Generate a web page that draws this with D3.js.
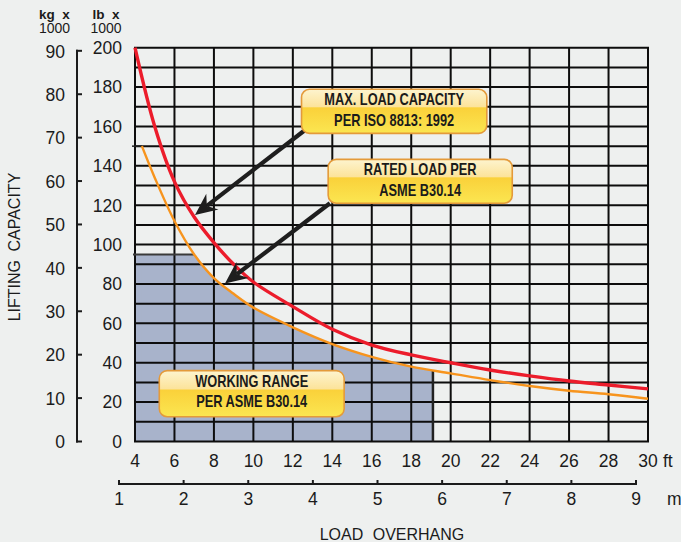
<!DOCTYPE html>
<html>
<head>
<meta charset="utf-8">
<script src="https://cdn.jsdelivr.net/npm/d3@7/dist/d3.min.js"></script>
<style>
  html, body { margin: 0; padding: 0; background: #eef0ef; }
  svg { display: block; }
</style>
</head>
<body>
<svg id="chart" width="681" height="542"></svg>
<script>
// ---------- DATA ----------
const ftTicks = [4, 6, 8, 10, 12, 14, 16, 18, 20, 22, 24, 26, 28, 30];
const mTicks = [1, 2, 3, 4, 5, 6, 7, 8, 9];
const lbTicks = [0, 20, 40, 60, 80, 100, 120, 140, 160, 180, 200];
const lbGrid = [0, 10, 20, 30, 40, 50, 60, 70, 80, 90, 100, 110, 120, 130, 140, 150, 160, 170, 180, 190, 200];
const kgTicks = [0, 10, 20, 30, 40, 50, 60, 70, 80, 90];

// Max. load capacity per ISO 8813 (red), ft vs lb x1000
const maxFt = [4, 5, 6, 7, 8, 9, 10, 12, 14, 16, 18, 20, 22, 24, 26, 28, 30];
const maxLb = [200, 160, 132, 114, 101, 90, 81, 68.5, 57, 49, 44, 40, 36.3, 33.3, 30.7, 28.7, 26.7];

// Rated load per ASME B30.14 (orange)
const ratedFt = [4.35, 5, 6, 7, 8, 9, 10, 12, 14, 16, 18, 20, 22, 24, 26, 28, 30];
const ratedLb = [150, 134, 112, 95, 83, 75, 68, 58, 49.5, 43, 38, 34.6, 31.2, 28.2, 25.8, 24, 21.7];

// Working range limits
const workingMaxLb = 95;
const workingMaxFt = 19.1;

// Annotation boxes (data units: ft, lb)
const boxLabels = [
  ["MAX. LOAD CAPACITY", "PER ISO 8813: 1992"],
  ["RATED LOAD PER", "ASME B30.14"],
  ["WORKING RANGE", "PER ASME B30.14"]
];
const boxFt0 = [12.44, 13.79, 5.23];
const boxFt1 = [21.83, 23.12, 14.6];
const boxLbTop = [178.9, 143.3, 36.0];
const boxLbBot = [156.5, 121.0, 12.6];

// Arrows (data units)
const arrowFromFt = [12.62, 13.88];
const arrowFromLb = [158.2, 121.0];
const arrowToFt = [7.04, 8.56];
const arrowToLb = [115.0, 80.3];

const KG_TO_LB = 2.20462;

// ---------- SCALES ----------
const svg = d3.select("#chart");
const x = d3.scaleLinear().domain([4, 30]).range([135, 648]);
const y = d3.scaleLinear().domain([0, 200]).range([441.5, 47.7]);
const xm = d3.scaleLinear().domain([1, 9]).range([119, 636]);

const FONT = "'Liberation Sans', Arial, Helvetica, sans-serif";
const INK = "#1b1b1b";

// ---------- DEFS ----------
const defs = svg.append("defs");
defs.append("clipPath").attr("id", "workClip")
  .append("rect")
  .attr("x", x(4)).attr("y", y(workingMaxLb))
  .attr("width", x(workingMaxFt) - x(4))
  .attr("height", y(0) - y(workingMaxLb));

const grad = defs.append("linearGradient").attr("id", "boxGrad")
  .attr("x1", 0).attr("y1", 0).attr("x2", 0).attr("y2", 1);
grad.append("stop").attr("offset", "0%").attr("stop-color", "#fdf4cf");
grad.append("stop").attr("offset", "40%").attr("stop-color", "#fce39a");
grad.append("stop").attr("offset", "42%").attr("stop-color", "#fad13a");
grad.append("stop").attr("offset", "100%").attr("stop-color", "#fbe651");

// ---------- WORKING RANGE FILL ----------
const work = svg.append("g").attr("clip-path", "url(#workClip)");
work.append("rect")
  .attr("x", x(4)).attr("y", y(workingMaxLb))
  .attr("width", x(ratedFt[3]) - x(4))
  .attr("height", y(0) - y(workingMaxLb))
  .attr("fill", "#a8b3cb");
const ratedPts = ratedFt.map((f, i) => [f, ratedLb[i]]);
work.append("path")
  .datum(ratedPts)
  .attr("fill", "#a8b3cb")
  .attr("d", d3.area()
    .x(d => x(d[0])).y0(y(0)).y1(d => y(d[1]))
    .curve(d3.curveCatmullRom));

// ---------- GRID ----------
const grid = svg.append("g").attr("stroke", "#0d0d0d").attr("stroke-width", 2);
grid.selectAll("line.v").data(ftTicks).join("line")
  .attr("x1", d => x(d)).attr("x2", d => x(d))
  .attr("y1", y(200)).attr("y2", y(0));
grid.selectAll("line.h").data(lbGrid).join("line")
  .attr("class", "h")
  .attr("x1", x(4) - 1).attr("x2", x(30) + 1)
  .attr("y1", d => y(d)).attr("y2", d => y(d));

// working range edges
svg.append("line")
  .attr("x1", x(4) - 2).attr("x2", x(ratedFt[3]))
  .attr("y1", y(workingMaxLb)).attr("y2", y(workingMaxLb))
  .attr("stroke", "#3a3a3a").attr("stroke-width", 2);
svg.append("line")
  .attr("x1", x(workingMaxFt)).attr("x2", x(workingMaxFt))
  .attr("y1", y(36.2)).attr("y2", y(0))
  .attr("stroke", "#222").attr("stroke-width", 2.5);
svg.append("line")
  .attr("x1", x(4) - 3).attr("x2", x(ratedFt[0]))
  .attr("y1", y(ratedLb[0])).attr("y2", y(ratedLb[0]))
  .attr("stroke", "#222").attr("stroke-width", 1.5);

// ---------- CURVES ----------
const line = d3.line().x(d => x(d[0])).y(d => y(d[1])).curve(d3.curveCatmullRom);
svg.append("path")
  .datum(ratedPts)
  .attr("fill", "none").attr("stroke", "#f7941d").attr("stroke-width", 2.4)
  .attr("d", line);
svg.append("path")
  .datum(maxFt.map((f, i) => [f, maxLb[i]]))
  .attr("fill", "none").attr("stroke", "#ec1c2b").attr("stroke-width", 3.4)
  .attr("d", line);

// ---------- ARROWS ----------
const arrows = svg.append("g");
arrowFromFt.forEach((f, i) => {
  const x0 = x(f), y0 = y(arrowFromLb[i]);
  const x1 = x(arrowToFt[i]), y1 = y(arrowToLb[i]);
  const ang = Math.atan2(y1 - y0, x1 - x0);
  const L = 22, W = 10, N = 15;
  const bx = x1 - L * Math.cos(ang), by = y1 - L * Math.sin(ang);
  const nx = x1 - N * Math.cos(ang), ny = y1 - N * Math.sin(ang);
  const px = -Math.sin(ang), py = Math.cos(ang);
  arrows.append("line")
    .attr("x1", x0).attr("y1", y0).attr("x2", nx).attr("y2", ny)
    .attr("stroke", "#1e1e1e").attr("stroke-width", 4.2);
  arrows.append("path")
    .attr("d", `M${x1},${y1} L${bx + px * W},${by + py * W} L${nx},${ny} L${bx - px * W},${by - py * W} Z`)
    .attr("fill", "#1e1e1e");
});

// ---------- BOXES ----------
const boxes = svg.append("g");
boxLabels.forEach((lines, i) => {
  const bx0 = x(boxFt0[i]), bx1 = x(boxFt1[i]);
  const by0 = y(boxLbTop[i]), by1 = y(boxLbBot[i]);
  const g = boxes.append("g");
  g.append("rect")
    .attr("x", bx0).attr("y", by0)
    .attr("width", bx1 - bx0).attr("height", by1 - by0)
    .attr("rx", 8).attr("ry", 8)
    .attr("fill", "url(#boxGrad)")
    .attr("stroke", "#e49a3a").attr("stroke-width", 1.6);
  const cx = (bx0 + bx1) / 2;
  [[lines[0], 16], [lines[1], 36.3]].forEach(([t, dy]) => {
    g.append("text")
      .attr("transform", `translate(${cx},${by0 + dy}) scale(0.8,1)`)
      .attr("text-anchor", "middle").attr("font-family", FONT)
      .attr("font-weight", "bold").attr("font-size", 16).attr("fill", INK)
      .text(t);
  });
});

// ---------- AXES ----------
const TICKFS = 17.5;
// lb labels
svg.append("g").selectAll("text").data(lbTicks).join("text")
  .attr("x", 122).attr("y", d => y(d) + 6.3)
  .attr("text-anchor", "end").attr("font-family", FONT)
  .attr("font-size", TICKFS).attr("fill", INK)
  .text(d => d);

// kg axis
const kgAxis = svg.append("g");
kgAxis.append("line")
  .attr("x1", 77).attr("x2", 77)
  .attr("y1", y(90 * KG_TO_LB) - 1).attr("y2", y(0) + 1)
  .attr("stroke", INK).attr("stroke-width", 2);
kgAxis.selectAll("line.t").data(kgTicks).join("line")
  .attr("class", "t")
  .attr("x1", 76).attr("x2", 82)
  .attr("y1", d => y(d * KG_TO_LB)).attr("y2", d => y(d * KG_TO_LB))
  .attr("stroke", INK).attr("stroke-width", 2);
kgAxis.selectAll("text").data(kgTicks).join("text")
  .attr("x", 65).attr("y", d => y(d * KG_TO_LB) + 6.8)
  .attr("text-anchor", "end").attr("font-family", FONT)
  .attr("font-size", TICKFS).attr("fill", INK)
  .text(d => d);

// headers
[["kg  x", 54.5], ["lb  x", 106]].forEach(([t, cx]) => {
  svg.append("text").attr("x", cx).attr("y", 18.5)
    .attr("text-anchor", "middle").attr("font-family", FONT)
    .attr("font-weight", "bold").attr("font-size", 13.5).attr("fill", INK)
    .style("white-space", "pre")
    .text(t);
  svg.append("text").attr("x", cx).attr("y", 33)
    .attr("text-anchor", "middle").attr("font-family", FONT)
    .attr("font-size", 14).attr("fill", INK)
    .text("1000");
});

// ft labels
svg.append("g").selectAll("text").data(ftTicks).join("text")
  .attr("x", d => x(d)).attr("y", 467)
  .attr("text-anchor", "middle").attr("font-family", FONT)
  .attr("font-size", TICKFS).attr("fill", INK)
  .text(d => d);
svg.append("text").attr("x", 663).attr("y", 467)
  .attr("font-family", FONT).attr("font-size", TICKFS).attr("fill", INK).text("ft");

// m axis
const mAxis = svg.append("g");
mAxis.append("line")
  .attr("x1", xm(1) - 1).attr("x2", xm(9) + 1)
  .attr("y1", 484).attr("y2", 484)
  .attr("stroke", INK).attr("stroke-width", 2);
mAxis.selectAll("line.t").data(mTicks).join("line")
  .attr("class", "t")
  .attr("x1", d => xm(d)).attr("x2", d => xm(d))
  .attr("y1", 480).attr("y2", 485)
  .attr("stroke", INK).attr("stroke-width", 2);
mAxis.selectAll("text").data(mTicks).join("text")
  .attr("x", d => xm(d)).attr("y", 505)
  .attr("text-anchor", "middle").attr("font-family", FONT)
  .attr("font-size", TICKFS).attr("fill", INK)
  .text(d => d);
svg.append("text").attr("x", 667).attr("y", 505)
  .attr("font-family", FONT).attr("font-size", TICKFS).attr("fill", INK).text("m");

// axis titles
svg.append("text")
  .attr("x", 392).attr("y", 539.5)
  .attr("text-anchor", "middle").attr("font-family", FONT)
  .attr("font-size", 16).attr("fill", INK)
  .attr("word-spacing", 5)
  .text("LOAD OVERHANG");
svg.append("text")
  .attr("transform", "translate(20,247) rotate(-90)")
  .attr("text-anchor", "middle").attr("font-family", FONT)
  .attr("font-size", 16).attr("fill", INK)
  .attr("word-spacing", 4)
  .text("LIFTING CAPACITY");
</script>
</body>
</html>
